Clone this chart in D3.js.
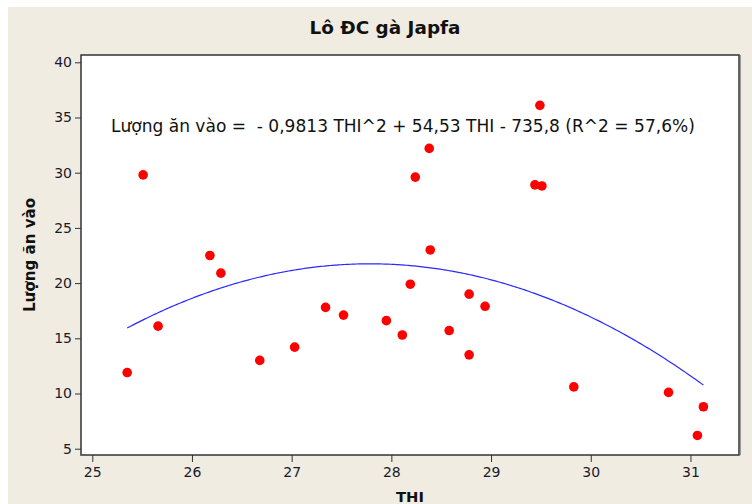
<!DOCTYPE html>
<html>
<head>
<meta charset="utf-8">
<script src="https://cdn.jsdelivr.net/npm/d3@7/dist/d3.min.js"></script>
<style>
  html, body { margin: 0; padding: 0; background: #ffffff; }
  svg { display: block; }
  text { font-family: "DejaVu Sans", Verdana, sans-serif; white-space: pre; }
</style>
</head>
<body>
<svg id="chart" width="752" height="504"></svg>
<script>
// ---- data ----
const thi = [25.35, 25.51, 25.66, 26.18, 26.29, 26.68, 27.03, 27.34, 27.52, 27.95, 28.11, 28.19, 28.24, 28.38, 28.39, 28.58, 28.78, 28.78, 28.94, 29.44, 29.51, 29.49, 29.83, 30.78, 31.07, 31.13];
const luongAn = [11.9, 29.8, 16.1, 22.5, 20.9, 13.0, 14.2, 17.8, 17.1, 16.6, 15.3, 19.9, 29.6, 32.2, 23.0, 15.7, 13.5, 19.0, 17.9, 28.9, 28.8, 36.1, 10.6, 10.1, 6.2, 8.8];
const coef = [-735.8, 54.53, -0.9813]; // c0 + c1*x + c2*x^2
const xTicks = [25, 26, 27, 28, 29, 30, 31];
const yTicks = [5, 10, 15, 20, 25, 30, 35, 40];
const title = "Lô ĐC gà Japfa";
const xLabel = "THI";
const yLabel = "Lượng ăn vào";
const equation = "Lượng ăn vào =  - 0,9813 THI^2 + 54,53 THI - 735,8 (R^2 = 57,6%)";

// ---- layout ----
const W = 752, H = 504;
const plot = { left: 81, right: 739, top: 55, bottom: 455 };
const svg = d3.select("#chart");

// scale a text's font size so that its rendered width matches a target width
function fitWidth(sel, target) {
  const fs = parseFloat(sel.style("font-size"));
  const w = sel.node().getComputedTextLength();
  if (w > 0) sel.style("font-size", (fs * target / w).toFixed(2) + "px");
  return sel;
}

svg.append("rect").attr("x", 8).attr("y", 7).attr("width", W - 8).attr("height", H - 7).attr("fill", "#f0ece2");

const x = d3.scaleLinear().domain([24.887, 31.487]).range([plot.left, plot.right]);
const y = d3.scaleLinear().domain([4.43, 40.66]).range([plot.bottom, plot.top]);

svg.append("rect")
  .attr("x", plot.left).attr("y", plot.top)
  .attr("width", plot.right - plot.left).attr("height", plot.bottom - plot.top)
  .attr("fill", "#ffffff");

// axes
const xAxis = svg.append("g").attr("transform", `translate(0,${plot.bottom})`)
  .call(d3.axisBottom(x).tickValues(xTicks).tickFormat(d3.format("d")).tickSize(7).tickSizeOuter(0));
const yAxis = svg.append("g").attr("transform", `translate(${plot.left},0)`)
  .call(d3.axisLeft(y).tickValues(yTicks).tickFormat(d3.format("d")).tickSize(6).tickSizeOuter(0));
[xAxis, yAxis].forEach(g => {
  g.select(".domain").remove();
  g.selectAll(".tick line").attr("stroke", "#333").attr("stroke-width", 1);
  g.selectAll(".tick text").attr("fill", "#1a1a2a").style("font-size", "14px")
    .style("font-family", "'DejaVu Sans', sans-serif");
});
xAxis.selectAll(".tick text").attr("dy", "0.71em").attr("y", 12);
yAxis.selectAll(".tick text").attr("x", -9);

// fitted curve
const xs = d3.range(d3.min(thi), d3.max(thi) + 1e-9, 0.02).concat([d3.max(thi)]);
const line = d3.line().x(d => x(d)).y(d => y(coef[0] + coef[1] * d + coef[2] * d * d));
svg.append("path").datum(xs).attr("d", line)
  .attr("fill", "none").attr("stroke", "#2a2aff").attr("stroke-width", 1.2);

// points
svg.append("g").selectAll("circle").data(thi).join("circle")
  .attr("cx", (d) => x(d))
  .attr("cy", (d, i) => y(luongAn[i]))
  .attr("r", 4.8)
  .attr("fill", "#ff0000");

// border
svg.append("rect")
  .attr("x", plot.left).attr("y", plot.top)
  .attr("width", plot.right - plot.left).attr("height", plot.bottom - plot.top)
  .attr("fill", "none").attr("stroke", "#333").attr("stroke-width", 1.5);
svg.append("line").attr("x1", plot.right + 1.5).attr("x2", plot.right + 1.5)
  .attr("y1", plot.top).attr("y2", plot.bottom).attr("stroke", "#999").attr("stroke-width", 1);

// title
const tTitle = svg.append("text").attr("x", 385).attr("y", 34).attr("text-anchor", "middle")
  .style("font-size", "17px").style("font-weight", "bold")
  .style("font-family", "'DejaVu Sans', sans-serif")
  .attr("fill", "#111").text(title);
fitWidth(tTitle, 151);

// equation
const tEq = svg.append("text").attr("x", 111).attr("y", 132)
  .attr("xml:space", "preserve")
  .style("font-size", "16px")
  .style("font-family", "'DejaVu Sans', sans-serif")
  .attr("fill", "#111").text(equation);
fitWidth(tEq, 584);

// axis labels
const tX = svg.append("text").attr("x", (plot.left + plot.right) / 2).attr("y", 502).attr("text-anchor", "middle")
  .style("font-size", "15px").style("font-weight", "bold")
  .style("font-family", "'DejaVu Sans', sans-serif")
  .attr("fill", "#111").text(xLabel);
fitWidth(tX, 28);
const tY = svg.append("text").attr("transform", `translate(35,${(plot.top + plot.bottom) / 2}) rotate(-90)`)
  .attr("text-anchor", "middle")
  .style("font-size", "15px").style("font-weight", "bold")
  .style("font-family", "'DejaVu Sans', sans-serif")
  .attr("fill", "#111").text(yLabel);
fitWidth(tY, 114);
</script>
</body>
</html>
